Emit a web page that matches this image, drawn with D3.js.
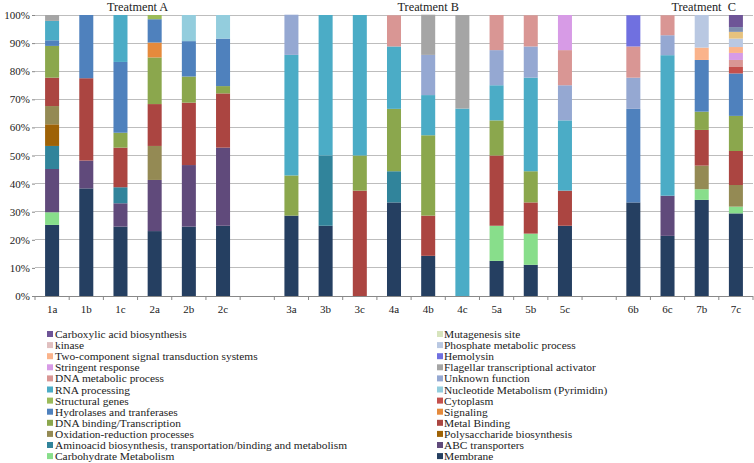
<!DOCTYPE html>
<html><head><meta charset="utf-8">
<script src="https://cdn.jsdelivr.net/npm/d3@7"></script>
<style>
body{margin:0;background:#fff;}
svg text{font-family:"Liberation Serif","Times New Roman",serif;fill:#222;}
</style></head>
<body><svg id="chart" width="754" height="463"></svg>
<script>
// Categories (blank entries are the empty slots between treatments)
const categories = ["1a","1b","1c","2a","2b","2c","gapA","3a","3b","3c","4a","4b","4c","5a","5b","5c","gapB","6b","6c","7b","7c"];
const barCategories = ["1a","1b","1c","2a","2b","2c","3a","3b","3c","4a","4b","4c","5a","5b","5c","6b","6c","7b","7c"];
const yTicks = [0,10,20,30,40,50,60,70,80,90,100];
const groups = [{label:"Treatment A", from:"1a", to:"2c"},{label:"Treatment B", from:"3a", to:"5c"},{label:"Treatment\u00A0 C", from:"6b", to:"7c"}];

// Series in stacking order (bottom -> top); values are % per bar in barCategories order
const seriesNames = ["Membrane","Carbohydrate Metabolism","ABC transporters","Aminoacid biosynthesis, transportation/binding and metabolism","Polysaccharide biosynthesis","Oxidation-reduction processes","Metal Binding","DNA binding/Transcription","Signaling","Hydrolases and tranferases","Cytoplasm","Structural genes","Nucleotide Metabolism (Pyrimidin)","RNA processing","Unknown function","DNA metabolic process","Flagellar transcriptional activator","Stringent response","Hemolysin","Two-component signal transduction systems","Phosphate metabolic process","kinase","Mutagenesis site","unlisted-1","unlisted-2","Carboxylic acid biosynthesis"];
const seriesColors = ["#253F61","#88DE8B","#604A7B","#31849B","#9E6206","#948A54","#AB4541","#8BA74D","#E58A3C","#4F81BD","#C4504C","#9BBB59","#93CDDD","#4BACC6","#95A8D2","#D99694","#A5A5A5","#D79BE6","#7070E0","#FAB38B","#B9C8E2","#E0BFBF","#D7E4BD","#E6C27E","#7F8FAF","#6E5497"];
//                   1a   1b   1c   2a   2b   2c   3a   3b  3c   4a   4b   4c   5a   5b   5c   6b   6c   7b   7c
const vMembrane   = [25.3,38.3,24.7,23.1,24.7,25.0,28.6,25, 0,   33.3,14.3,0,   12.5,11.1,25,  33.3,21.4,34.2,29.4];
const vCarbo      = [4.5, 0,   0,   0,   0,   0,   0,   0,  0,   0,   0,   0,   12.5,11.1,0,   0,   0,   3.8, 2.4];
const vABC        = [15.4,9.9, 8.3, 18.2,21.9,27.8,0,   0,  0,   0,   0,   0,   0,   0,   0,   0,   14.3,0,   0];
const vAmino      = [8.2, 0,   5.7, 0,   0,   0,   0,   25, 0,   11.1,0,   0,   0,   0,   0,   0,   0,   0,   0];
const vPolysacch  = [7.7, 0,   0,   0,   0,   0,   0,   0,  0,   0,   0,   0,   0,   0,   0,   0,   0,   0,   0];
const vOxid       = [6.5, 0,   0,   12.1,0,   0,   0,   0,  0,   0,   0,   0,   0,   0,   0,   0,   0,   8.4, 7.7];
const vMetal      = [10.1,29.3,14.1,14.9,22.2,19.3,0,   0,  37.5,0,   14.3,0,   25,  11.1,12.5,0,   0,   12.7,12.1];
const vDNAbind    = [11.3,0,   5.3, 16.6,9.3, 2.6, 14.3,0,  12.5,22.2,28.6,0,   12.5,11.1,0,   0,   0,   6.5, 12.5];
const vSignal     = [0,   0,   0,   5.3, 0,   0,   0,   0,  0,   0,   0,   0,   0,   0,   0,   0,   0,   0,   0];
const vHydro      = [2.0, 22.5,25.2,8.3, 12.6,16.9,0,   0,  0,   0,   0,   0,   0,   0,   0,   33.3,0,   18.4,15.1];
const vCyto       = [0,   0,   0,   0,   0,   0,   0,   0,  0,   0,   0,   0,   0,   0,   0,   0,   0,   0,   2.3];
const vStruct     = [0,   0,   0,   1.5, 0,   0,   0,   0,  0,   0,   0,   0,   0,   0,   0,   0,   0,   0,   0];
const vNucleo     = [0,   0,   0,   0,   9.3, 8.4, 0,   0,  0,   0,   0,   0,   0,   0,   0,   0,   0,   0,   0];
const vRNA        = [6.9, 0,   16.7,0,   0,   0,   42.9,50, 50,  22.2,14.3,66.7,12.5,33.3,25,  0,   50,  0,   0];
const vUnknown    = [0,   0,   0,   0,   0,   0,   14.3,0,  0,   0,   14.3,0,   12.5,11.1,12.5,11.1,7.1, 0,   0];
const vDNAmeta    = [0,   0,   0,   0,   0,   0,   0,   0,  0,   11.1,0,   0,   12.5,11.1,12.5,11.1,7.1, 0,   2.5];
const vFlagellar  = [2.1, 0,   0,   0,   0,   0,   0,   0,  0,   0,   14.3,33.3,0,   0,   0,   0,   0,   0,   0];
const vStringent  = [0,   0,   0,   0,   0,   0,   0,   0,  0,   0,   0,   0,   0,   0,   12.5,0,   0,   0,   2.5];
const vHemolysin  = [0,   0,   0,   0,   0,   0,   0,   0,  0,   0,   0,   0,   0,   0,   0,   11.1,0,   0,   0];
const vTwoComp    = [0,   0,   0,   0,   0,   0,   0,   0,  0,   0,   0,   0,   0,   0,   0,   0,   0,   4.4, 2.1];
const vPhosphate  = [0,   0,   0,   0,   0,   0,   0,   0,  0,   0,   0,   0,   0,   0,   0,   0,   0,   11.6,3.0];
const vKinase     = [0,   0,   0,   0,   0,   0,   0,   0,  0,   0,   0,   0,   0,   0,   0,   0,   0,   0,   0];
const vMutagen    = [0,   0,   0,   0,   0,   0,   0,   0,  0,   0,   0,   0,   0,   0,   0,   0,   0,   0,   0];
const vUnlisted1  = [0,   0,   0,   0,   0,   0,   0,   0,  0,   0,   0,   0,   0,   0,   0,   0,   0,   0,   2.4];
const vUnlisted2  = [0,   0,   0,   0,   0,   0,   0,   0,  0,   0,   0,   0,   0,   0,   0,   0,   0,   0,   1.7];
const vCarboxylic = [0,   0,   0,   0,   0,   0,   0,   0,  0,   0,   0,   0,   0,   0,   0,   0,   0,   0,   4.3];
const seriesValues = [vMembrane,vCarbo,vABC,vAmino,vPolysacch,vOxid,vMetal,vDNAbind,vSignal,vHydro,vCyto,vStruct,vNucleo,vRNA,vUnknown,vDNAmeta,vFlagellar,vStringent,vHemolysin,vTwoComp,vPhosphate,vKinase,vMutagen,vUnlisted1,vUnlisted2,vCarboxylic];
// Legend: left and right columns, top to bottom
const legendLeft = ["Carboxylic acid biosynthesis","kinase","Two-component signal transduction systems","Stringent response","DNA metabolic process","RNA processing","Structural genes","Hydrolases and tranferases","DNA binding/Transcription","Oxidation-reduction processes","Aminoacid biosynthesis, transportation/binding and metabolism","Carbohydrate Metabolism"];
const legendRight = ["Mutagenesis site","Phosphate metabolic process","Hemolysin","Flagellar transcriptional activator","Unknown function","Nucleotide Metabolism (Pyrimidin)","Cytoplasm","Signaling","Metal Binding","Polysaccharide biosynthesis","ABC transporters","Membrane"];

const svg = d3.select("#chart");
const x = d3.scaleBand().domain(categories).range([35, 753]).paddingInner(0.59).paddingOuter(0.295);
const y = d3.scaleLinear().domain([0, 100]).range([296, 15]);
const colorOf = d3.scaleOrdinal().domain(seriesNames).range(seriesColors);

// gridlines
svg.append("g").selectAll("line").data(yTicks.filter(d => d > 0)).join("line")
  .attr("x1", 35).attr("x2", 753).attr("y1", d => y(d)).attr("y2", d => y(d))
  .attr("stroke", "#BDBDBD").attr("stroke-width", 1).attr("shape-rendering", "crispEdges");

// y axis labels
const yAxis = d3.axisLeft(y).tickValues(yTicks).tickFormat(d => d + "%").tickSize(3).tickPadding(2);
const gy = svg.append("g").attr("transform", "translate(35,0)").call(yAxis);
gy.select(".domain").remove();
gy.selectAll(".tick line").attr("stroke", "#888");
gy.selectAll("text").style("font-size", "11px").attr("fill", "#222");

// stacked data
const table = barCategories.map((c, i) => {
  const row = {cat: c};
  seriesNames.forEach((s, k) => row[s] = seriesValues[k][i]);
  return row;
});
const stacked = d3.stack().keys(seriesNames)(table);
svg.append("g").selectAll("g").data(stacked).join("g").attr("fill", d => colorOf(d.key))
  .selectAll("rect").data(d => d.filter(p => p[1] - p[0] > 0)).join("rect")
  .attr("x", d => x(d.data.cat)).attr("width", x.bandwidth())
  .attr("y", d => y(d[1])).attr("height", d => y(d[0]) - y(d[1]));

// x axis
const gx = svg.append("g").attr("transform", "translate(0,296)");
gx.append("line").attr("x1", 35).attr("x2", 753).attr("y1", 0.5).attr("y2", 0.5).attr("stroke", "#888");
const step = x.step();
gx.selectAll("line.tk").data(d3.range(categories.length + 1)).join("line").attr("class", "tk")
  .attr("x1", i => 35 + i * step).attr("x2", i => 35 + i * step).attr("y1", 0).attr("y2", 4)
  .attr("stroke", "#888");
gx.selectAll("text").data(barCategories).join("text")
  .attr("x", d => x(d) + x.bandwidth() / 2).attr("y", 17).attr("text-anchor", "middle")
  .style("font-size", "11px").text(d => d);

// group titles
svg.append("g").selectAll("text").data(groups).join("text")
  .attr("x", d => (x(d.from) + x(d.to) + x.bandwidth()) / 2 + (d.from === "6b" ? 19 : 0))
  .attr("y", 11).attr("text-anchor", "middle").style("font-size", "12.3px")
  .text(d => d.label);

// legend
function legendCol(names, sx, tx) {
  const g = svg.append("g");
  const rows = g.selectAll("g").data(names).join("g").attr("transform", (d, i) => `translate(0,${334 + i * 11.1})`);
  rows.append("rect").attr("x", sx).attr("y", -3).attr("width", 6).attr("height", 6).attr("fill", d => colorOf(d));
  rows.append("text").attr("x", tx).attr("y", 4).style("font-size", "11.4px").text(d => d);
}
legendCol(legendLeft, 47, 55);
legendCol(legendRight, 437, 444);
</script></body></html>
